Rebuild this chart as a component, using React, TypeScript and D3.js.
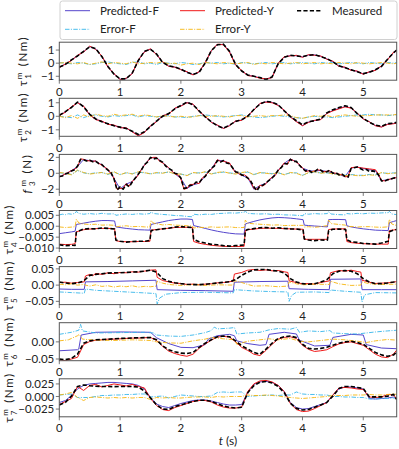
import React from 'react';
import * as d3 from 'd3';

// ---------- shared time grid (s) ----------
const T = [0,0.1,0.2,0.3,0.4,0.5,0.6,0.7,0.8,0.9,1,1.1,1.2,1.3,1.4,1.5,1.6,1.7,1.8,1.9,2,2.1,2.2,2.3,2.4,2.5,2.6,2.7,2.8,2.9,3,3.1,3.2,3.3,3.4,3.5,3.6,3.7,3.8,3.9,4,4.1,4.2,4.3,4.4,4.5,4.6,4.7,4.8,4.9,5,5.1,5.2,5.3,5.4,5.5,5.55];
const timeTicks = [0, 1, 2, 3, 4, 5];
const legendLabels = ['Predicted-F', 'Predicted-Y', 'Measured', 'Error-F', 'Error-Y'];

// ---------- panel 1: tau_1 (Nm) ----------
const p1Measured = [-0.3,-0.1,0.25,0.55,0.9,1.25,1.1,0.5,-0.25,-0.85,
  -1.2,-1.2,-0.75,0.2,0.9,1.05,0.7,0.05,-0.2,-0.3,
  -0.45,-0.7,-0.85,-0.7,0.0,0.95,1.4,1.45,0.9,-0.1,
  -0.6,-0.9,-1.0,-1.1,-1.25,-1.05,-0.05,0.45,0.6,0.55,
  0.5,0.6,0.65,0.5,0.35,0.1,-0.2,-0.35,-0.5,-0.65,
  -0.8,-0.7,-0.5,-0.25,0.3,0.8,1.0];
const p1PredY = [-0.35,-0.05,0.2,0.6,0.85,1.3,1.05,0.55,-0.3,-0.8,
  -1.25,-1.15,-0.8,0.25,0.85,1.1,0.65,0.1,-0.25,-0.3,
  -0.5,-0.65,-0.9,-0.65,0.05,0.95,1.45,1.4,0.85,-0.15,
  -0.55,-0.95,-1.0,-1.15,-1.2,-1.1,0.0,0.5,0.55,0.6,
  0.45,0.65,0.6,0.55,0.3,0.15,-0.25,-0.3,-0.55,-0.6,
  -0.85,-0.65,-0.55,-0.2,0.25,0.85,0.95];
const p1PredF = [-0.32,-0.08,0.22,0.57,0.88,1.27,1.08,0.52,-0.27,-0.83,
  -1.22,-1.18,-0.77,0.22,0.88,1.07,0.68,0.07,-0.22,-0.3,
  -0.47,-0.68,-0.87,-0.68,0.02,0.95,1.42,1.43,0.88,-0.12,
  -0.58,-0.92,-1.0,-1.12,-1.23,-1.07,-0.03,0.47,0.58,0.57,
  0.48,0.62,0.63,0.52,0.33,0.12,-0.22,-0.33,-0.52,-0.63,
  -0.82,-0.68,-0.52,-0.23,0.28,0.82,0.98];
const p1ErrF = [0.05,0.0,-0.05,0.05,0.0,-0.1,-0.05,0.05,0.1,0.0,
  -0.05,-0.1,0.05,0.1,-0.05,0.0,-0.1,0.05,0.0,-0.05,
  0.05,0.0,-0.1,-0.05,0.05,0.0,0.05,-0.05,0.0,-0.1,
  0.05,0.0,-0.05,0.0,0.05,-0.05,0.0,0.05,-0.05,0.0,
  0.05,0.0,-0.05,0.05,0.0,0.05,-0.05,0.0,0.05,0.0,
  -0.05,0.05,0.0,-0.05,0.05,0.0,0.05];
const p1ErrY = [0.0,0.05,0.0,-0.05,0.05,-0.1,0.0,0.1,-0.05,0.05,
  0.0,-0.05,0.1,-0.05,0.0,0.05,0.0,0.1,-0.05,0.0,
  -0.15,-0.05,0.0,-0.1,0.05,0.0,-0.05,0.05,0.0,-0.05,
  0.0,0.05,-0.1,0.0,-0.05,0.05,0.0,-0.05,0.0,0.05,
  -0.05,0.0,0.05,-0.05,0.0,-0.05,0.05,0.0,-0.05,0.05,
  0.0,-0.05,0.0,0.05,0.0,-0.05,0.0];

// ---------- panel 2: tau_2 (Nm) ----------
const p2Measured = [0.07,0.35,0.65,1.05,0.7,0.15,-0.2,-0.4,-0.55,-0.7,
  -0.8,-0.9,-1.1,-1.35,-1.15,-0.75,-0.35,0.0,0.2,0.55,
  0.8,1.05,0.85,0.4,-0.05,-0.4,-0.7,-0.88,-0.65,-0.38,
  -0.25,0.0,0.5,0.9,1.1,1.05,0.85,0.4,0.0,-0.33,
  -0.62,-0.4,-0.33,-0.2,0.25,0.48,0.65,0.78,0.65,0.2,
  -0.15,-0.45,-0.65,-0.74,-0.55,-0.5,-0.45];
const p2PredY = [0.05,0.3,0.7,1.0,0.75,0.1,-0.25,-0.35,-0.6,-0.65,
  -0.85,-0.85,-1.15,-1.45,-1.2,-0.7,-0.4,0.05,0.15,0.6,
  0.75,1.0,0.9,0.35,0.0,-0.45,-0.65,-0.9,-0.7,-0.35,
  -0.3,0.05,0.45,0.95,1.05,1.0,0.8,0.45,-0.05,-0.4,
  -0.7,-0.45,-0.3,-0.25,0.2,0.4,0.55,0.7,0.6,0.25,
  -0.2,-0.4,-0.7,-0.8,-0.6,-0.55,-0.5];
const p2PredF = [0.06,0.32,0.68,1.02,0.73,0.12,-0.22,-0.37,-0.58,-0.67,
  -0.83,-0.87,-1.13,-1.42,-1.18,-0.72,-0.38,0.03,0.17,0.58,
  0.77,1.02,0.88,0.37,-0.02,-0.43,-0.67,-0.89,-0.68,-0.36,
  -0.28,0.03,0.47,0.93,1.07,1.03,0.83,0.43,-0.03,-0.38,
  -0.68,-0.43,-0.32,-0.23,0.22,0.43,0.58,0.72,0.62,0.22,
  -0.18,-0.42,-0.68,-0.78,-0.58,-0.53,-0.48];
const p2ErrF = [0.0,-0.05,-0.1,0.1,-0.1,0.05,0.1,0.0,-0.05,0.05,
  0.0,0.05,0.1,-0.05,0.05,0.0,-0.05,0.0,0.05,-0.05,
  -0.05,-0.1,0.0,0.05,0.1,0.05,0.0,-0.05,0.0,0.05,
  0.1,0.0,-0.05,-0.1,-0.05,0.0,0.05,0.0,-0.05,-0.1,
  -0.15,-0.05,0.0,-0.05,-0.05,-0.1,-0.05,0.0,0.05,0.1,
  0.1,0.15,0.1,0.1,0.05,0.1,0.1];
const p2ErrY = [0.0,-0.1,0.05,-0.15,0.1,-0.05,0.15,0.05,0.0,0.15,
  0.05,0.1,0.15,0.0,0.1,0.05,-0.05,0.05,0.0,-0.05,
  0.0,-0.05,-0.05,0.05,0.0,0.0,0.05,0.0,-0.05,0.05,
  0.05,-0.05,0.0,0.05,0.0,0.05,0.05,0.1,0.05,-0.1,
  -0.15,-0.05,0.05,0.0,0.05,-0.05,0.05,0.1,0.05,0.0,
  0.05,0.05,0.1,0.1,0.1,0.1,0.15];

// ---------- panel 3: f_3 (N), [t, value] ----------
const p3Measured = [[0,-0.4],[0.05,-0.35],[0.1,-0.1],[0.15,0.05],[0.2,0.3],[0.25,0.45],[0.3,0.9],[0.35,1.75],[0.4,1.7],[0.45,1.55],
  [0.5,1.65],[0.55,1.45],[0.6,1.5],[0.65,1.2],[0.7,1.1],[0.75,0.7],[0.8,0.4],[0.85,0.1],[0.9,-0.7],[0.95,-2.1],
  [1.0,-1.7],[1.05,-2.0],[1.1,-1.4],[1.15,-1.7],[1.2,-1.1],[1.25,-0.6],[1.3,-0.1],[1.35,0.4],[1.4,1.1],[1.45,1.4],
  [1.5,2.0],[1.55,1.8],[1.6,1.9],[1.65,1.6],[1.7,1.4],[1.75,0.9],[1.8,0.6],[1.85,0.4],[1.9,0.0],[1.95,-0.1],
  [2.0,-0.6],[2.05,-1.9],[2.1,-1.8],[2.15,-1.5],[2.2,-1.5],[2.25,-1.1],[2.3,-1.2],[2.35,-0.7],[2.4,-0.4],[2.45,0.2],
  [2.5,0.6],[2.55,0.9],[2.6,1.6],[2.65,1.4],[2.7,1.6],[2.75,1.3],[2.8,1.2],[2.85,0.7],[2.9,0.2],[2.95,0.1],
  [3.0,-0.2],[3.05,-0.3],[3.1,-0.6],[3.15,-1.0],[3.2,-1.7],[3.25,-2.2],[3.3,-1.6],[3.35,-1.5],[3.4,-1.2],[3.45,-0.9],
  [3.5,-0.6],[3.55,-0.2],[3.6,0.4],[3.65,0.7],[3.7,1.2],[3.75,1.2],[3.8,1.75],[3.85,1.5],[3.9,1.5],[3.95,1.0],
  [4.0,0.6],[4.05,0.3],[4.1,0.4],[4.15,0.1],[4.2,0.2],[4.25,0.5],[4.3,0.4],[4.35,0.1],[4.4,0.2],[4.45,0.4],
  [4.5,0.0],[4.55,0.1],[4.6,-0.2],[4.65,-0.1],[4.7,-0.4],[4.75,-0.5],[4.8,0.6],[4.85,0.7],[4.9,0.8],[4.95,0.6],
  [5.0,0.4],[5.05,0.5],[5.1,0.2],[5.15,0.3],[5.2,0.2],[5.25,-0.2],[5.3,-0.95],[5.35,-1.0],[5.4,-0.8],[5.45,-0.75],
  [5.5,-0.6],[5.55,-0.55]];
const p3PredY = [[0,-0.5],[0.05,-0.3],[0.1,-0.05],[0.15,0.1],[0.2,0.35],[0.25,0.5],[0.3,0.8],[0.35,1.8],[0.4,1.75],[0.45,1.6],
  [0.5,1.55],[0.55,1.5],[0.6,1.55],[0.65,1.25],[0.7,1.0],[0.75,0.75],[0.8,0.5],[0.85,0.0],[0.9,-0.6],[0.95,-2.0],
  [1.0,-1.9],[1.05,-1.9],[1.1,-1.3],[1.15,-1.6],[1.2,-1.0],[1.25,-0.7],[1.3,-0.2],[1.35,0.5],[1.4,1.0],[1.45,1.5],
  [1.5,1.9],[1.55,2.0],[1.6,2.0],[1.65,1.5],[1.7,1.3],[1.75,1.0],[1.8,0.7],[1.85,0.3],[1.9,-0.1],[1.95,-0.2],
  [2.0,-0.7],[2.05,-2.0],[2.1,-1.9],[2.15,-1.4],[2.2,-1.4],[2.25,-1.2],[2.3,-1.3],[2.35,-0.6],[2.4,-0.3],[2.45,0.1],
  [2.5,0.5],[2.55,1.0],[2.6,1.7],[2.65,1.5],[2.7,1.5],[2.75,1.4],[2.8,1.3],[2.85,0.6],[2.9,0.1],[2.95,0.0],
  [3.0,-0.3],[3.05,-0.2],[3.1,-0.5],[3.15,-1.1],[3.2,-1.9],[3.25,-2.0],[3.3,-1.5],[3.35,-1.6],[3.4,-1.3],[3.45,-0.8],
  [3.5,-0.5],[3.55,-0.3],[3.6,0.3],[3.65,0.8],[3.7,1.3],[3.75,1.1],[3.8,1.8],[3.85,1.6],[3.9,1.4],[3.95,1.1],
  [4.0,0.7],[4.05,0.2],[4.1,0.3],[4.15,0.2],[4.2,0.3],[4.25,0.45],[4.3,0.35],[4.35,0.2],[4.4,0.25],[4.45,0.3],
  [4.5,0.05],[4.55,0.0],[4.6,-0.1],[4.65,-0.2],[4.7,-0.45],[4.75,-0.4],[4.8,0.7],[4.85,0.75],[4.9,0.75],[4.95,0.7],
  [5.0,0.65],[5.05,0.6],[5.1,0.55],[5.15,0.5],[5.2,0.45],[5.25,-0.1],[5.3,-0.9],[5.35,-0.95],[5.4,-0.85],[5.45,-0.7],
  [5.5,-0.65],[5.55,-0.5]];
const p3PredF = [-0.45,-0.08,0.32,0.85,1.72,1.58,1.52,1.05,0.45,-0.65,
  -1.95,-1.35,-1.05,-0.15,1.05,1.95,1.95,1.35,0.65,-0.05,
  -0.65,-1.9,-1.45,-1.25,-0.35,0.55,1.65,1.55,1.25,0.15,
  -0.25,-0.55,-2.0,-1.55,-1.25,-0.55,0.35,1.25,1.78,1.45,
  0.65,0.35,0.25,0.38,0.22,0.02,-0.15,-0.42,0.65,0.78,
  0.6,0.45,0.35,-0.92,-0.82,-0.62,-0.52];
const p3ErrF = [0.05,0.0,-0.15,0.35,0.05,-0.05,0.05,0.1,-0.15,0.15,
  -0.15,0.05,-0.05,0.15,0.05,-0.05,0.05,0.05,0.15,-0.05,
  -0.1,-0.25,0.05,0.05,0.15,-0.05,0.05,0.15,0.05,-0.05,
  0.05,0.15,-0.15,0.05,0.05,-0.05,0.05,-0.15,0.05,0.05,
  -0.25,0.05,0.15,0.05,0.05,-0.05,-0.15,-0.25,-0.15,-0.25,
  -0.25,-0.15,-0.2,0.05,0.0,0.05,0.05];
const p3ErrY = [0.1,0.0,-0.2,0.4,0.1,-0.1,0.0,0.1,-0.1,0.2,
  -0.2,0.1,-0.1,0.2,0.1,-0.1,0.1,0.0,0.2,-0.1,
  -0.1,-0.3,0.1,0.0,0.2,-0.1,0.1,0.2,0.0,-0.1,
  0.1,0.2,-0.2,0.1,0.0,-0.1,0.1,-0.2,0.1,0.0,
  -0.3,0.1,0.2,0.0,0.1,-0.1,-0.2,-0.3,-0.2,-0.3,
  -0.3,-0.2,-0.25,0.1,-0.05,0.0,0.05];

// ---------- panel 4: tau_4 (x1e-3 Nm), [t, value] ----------
const p4Measured = [[0,-8.5],[0.1,-8.9],[0.2,-8.7],[0.26,-8.8],[0.28,-2.8],[0.35,-1.8],[0.4,-1.3],[0.5,-1.1],[0.6,-1.2],[0.7,-0.8],[0.8,-1.0],[0.91,-1.3],[0.93,-6.3],[1.0,-6.9],[1.1,-7.3],[1.2,-7.0],[1.3,-6.9],[1.4,-6.9],[1.49,-6.5],[1.51,-2.0],[1.6,-1.6],[1.7,-1.2],[1.8,-0.9],[1.9,-0.4],[2.0,-0.2],[2.1,-0.4],[2.19,-0.6],[2.21,-6.0],[2.3,-7.1],[2.4,-7.7],[2.5,-8.3],[2.6,-8.5],[2.7,-8.9],[2.8,-9.1],[2.9,-8.9],[3.04,-8.6],[3.06,-2.0],[3.1,-1.5],[3.2,-1.1],[3.3,-0.7],[3.4,-0.6],[3.5,-0.9],[3.6,-0.7],[3.7,-1.0],[3.8,-1.2],[3.9,-1.3],[4.01,-1.7],[4.03,-5.8],[4.1,-6.3],[4.2,-6.6],[4.3,-6.3],[4.41,-6.4],[4.43,-2.0],[4.5,-1.4],[4.6,-1.3],[4.71,-1.5],[4.73,-6.2],[4.8,-7.1],[4.9,-7.4],[5.0,-7.9],[5.1,-8.0],[5.2,-8.2],[5.3,-7.7],[5.41,-6.9],[5.43,-2.5],[5.5,-1.8],[5.55,-1.5]];
const p4PredY = [[0,-8.2],[0.1,-8.4],[0.2,-8.3],[0.26,-8.0],[0.28,-2.6],[0.4,-1.6],[0.5,-1.3],[0.6,-1.1],[0.7,-1.0],[0.8,-1.0],[0.91,-1.1],[0.93,-6.6],[1.0,-7.0],[1.1,-7.1],[1.2,-7.1],[1.3,-7.0],[1.4,-7.0],[1.49,-6.9],[1.51,-1.8],[1.6,-1.5],[1.7,-1.2],[1.8,-0.9],[1.9,-0.6],[2.0,-0.5],[2.1,-0.5],[2.19,-0.6],[2.21,-7.0],[2.3,-7.8],[2.4,-8.3],[2.5,-8.7],[2.6,-9.0],[2.7,-9.2],[2.8,-9.3],[2.9,-9.3],[3.04,-9.2],[3.06,-2.0],[3.1,-1.6],[3.2,-1.3],[3.3,-1.0],[3.4,-0.9],[3.5,-0.9],[3.6,-1.0],[3.7,-1.1],[3.8,-1.2],[3.9,-1.3],[4.01,-1.4],[4.03,-6.0],[4.1,-6.0],[4.2,-6.0],[4.3,-6.0],[4.41,-6.0],[4.43,-1.5],[4.5,-1.3],[4.6,-1.2],[4.71,-1.2],[4.73,-7.0],[4.8,-7.5],[4.9,-7.8],[5.0,-8.0],[5.1,-8.1],[5.2,-8.2],[5.3,-8.2],[5.41,-8.2],[5.43,-2.0],[5.5,-1.7],[5.55,-1.5]];
const p4PredF = [[0,-3.4],[0.1,-3.0],[0.2,-2.6],[0.26,-2.3],[0.28,0.8],[0.4,1.4],[0.5,1.9],[0.6,2.3],[0.7,2.6],[0.8,2.6],[0.91,2.4],[0.93,-0.3],[1.0,-0.6],[1.1,-1.0],[1.2,-1.3],[1.3,-1.6],[1.4,-1.7],[1.49,-1.8],[1.51,0.8],[1.6,1.4],[1.7,2.0],[1.8,2.6],[1.9,3.0],[2.0,3.3],[2.1,3.3],[2.19,3.1],[2.21,0.3],[2.3,-0.3],[2.4,-1.0],[2.5,-1.7],[2.6,-2.3],[2.7,-2.8],[2.8,-3.2],[2.9,-3.5],[3.04,-3.6],[3.06,1.0],[3.1,1.4],[3.2,2.2],[3.3,2.9],[3.4,3.4],[3.5,3.8],[3.6,4.0],[3.7,3.9],[3.8,3.7],[3.9,3.4],[4.01,3.0],[4.03,0.5],[4.1,0.3],[4.2,0.1],[4.3,-0.1],[4.41,-0.3],[4.43,3.0],[4.5,3.1],[4.6,3.1],[4.71,3.0],[4.73,0.2],[4.8,-0.3],[4.9,-0.8],[5.0,-1.2],[5.1,-1.5],[5.2,-1.8],[5.3,-1.9],[5.41,-2.0],[5.43,1.6],[5.5,2.2],[5.55,2.6]];
const p4ErrF = [[0,5.2],[0.05,5.5],[0.1,5.3],[0.15,5.7],[0.2,5.5],[0.26,5.9],[0.28,6.8],[0.32,5.9],[0.4,5.5],[0.5,5.8],[0.6,5.5],[0.7,5.9],[0.8,5.6],[0.91,5.7],[0.93,5.0],[1.0,5.3],[1.1,5.6],[1.2,5.4],[1.3,5.7],[1.4,5.5],[1.49,5.8],[1.51,6.5],[1.55,5.8],[1.7,5.4],[1.8,5.2],[1.9,4.9],[2.0,4.8],[2.1,4.5],[2.19,4.3],[2.21,5.5],[2.3,5.2],[2.4,5.5],[2.5,5.4],[2.6,5.8],[2.7,5.9],[2.8,6.1],[2.9,6.0],[3.04,6.4],[3.06,6.9],[3.1,5.9],[3.2,5.7],[3.3,5.6],[3.4,5.7],[3.5,5.4],[3.6,5.5],[3.7,5.2],[3.85,5.1],[4.01,4.8],[4.03,5.8],[4.1,5.5],[4.2,5.8],[4.3,5.6],[4.41,5.8],[4.43,6.7],[4.47,5.6],[4.6,5.3],[4.71,5.2],[4.73,5.8],[4.8,5.6],[4.9,5.9],[5.0,5.7],[5.1,6.0],[5.2,5.9],[5.3,6.1],[5.41,6.2],[5.43,6.8],[5.47,5.6],[5.55,5.3]];
const p4ErrY = [[0,-0.3],[0.1,-0.6],[0.2,-0.4],[0.26,-0.2],[0.28,3.2],[0.32,1.5],[0.4,1.0],[0.5,0.8],[0.6,0.9],[0.7,0.5],[0.8,0.6],[0.91,0.4],[0.93,-0.3],[1.0,0.0],[1.1,0.2],[1.2,-0.2],[1.3,-0.1],[1.4,-0.3],[1.49,-0.4],[1.51,2.6],[1.55,1.4],[1.7,0.6],[1.8,0.8],[1.9,0.5],[2.0,0.4],[2.1,0.2],[2.19,0.1],[2.21,-0.8],[2.3,-0.5],[2.4,-0.6],[2.5,-0.3],[2.6,-0.5],[2.7,-0.4],[2.8,-0.3],[2.9,-0.6],[3.04,-0.6],[3.06,2.8],[3.1,1.4],[3.2,1.1],[3.3,0.9],[3.4,0.7],[3.5,0.5],[3.6,0.6],[3.7,0.3],[3.85,0.4],[4.01,0.4],[4.03,-0.4],[4.1,-0.2],[4.2,-0.5],[4.3,-0.2],[4.41,0.3],[4.43,2.8],[4.47,1.2],[4.6,0.8],[4.71,0.5],[4.73,-0.3],[4.8,-0.1],[4.9,-0.4],[5.0,-0.2],[5.1,-0.2],[5.2,-0.4],[5.3,-0.5],[5.41,-0.3],[5.43,3.2],[5.47,1.0],[5.55,0.3]];

// ---------- panel 5: tau_5 (x1e-2 Nm) ----------
const p5Measured = [0.95,0.65,0.45,0.65,1.25,3.0,3.3,3.5,3.7,3.8,
  3.8,3.9,4.0,4.1,4.3,4.6,4.0,2.0,1.15,0.75,
  0.45,0.25,0.15,0.15,0.25,0.45,0.65,0.85,1.05,1.65,
  3.0,4.0,4.7,4.8,4.8,4.5,4.3,3.7,2.0,0.95,
  0.45,0.25,0.45,0.95,1.65,3.5,4.3,4.5,4.3,3.5,
  2.0,0.95,0.45,0.45,0.65,0.95,1.15];
const p5PredY = [[0,0.8],[0.1,0.9],[0.2,0.6],[0.3,0.8],[0.41,1.0],[0.43,2.8],[0.5,3.3],[0.55,2.9],[0.6,3.6],[0.7,3.3],[0.8,3.8],[0.9,3.5],[1.0,3.9],[1.1,3.8],[1.2,4.1],[1.3,4.0],[1.4,4.3],[1.5,4.6],[1.59,4.7],[1.61,2.4],[1.7,1.4],[1.8,1.0],[1.9,0.6],[2.0,0.5],[2.1,0.2],[2.2,0.3],[2.3,0.1],[2.4,0.3],[2.5,0.4],[2.6,0.7],[2.7,0.8],[2.86,1.2],[2.88,3.4],[3.0,3.9],[3.1,4.6],[3.2,4.8],[3.3,4.5],[3.4,4.7],[3.5,4.4],[3.6,4.5],[3.7,4.1],[3.76,3.9],[3.78,1.3],[3.9,0.8],[4.0,0.4],[4.1,0.5],[4.2,0.3],[4.3,0.8],[4.44,1.3],[4.46,3.8],[4.6,4.5],[4.7,4.3],[4.8,4.6],[4.9,4.2],[4.96,4.0],[4.98,1.5],[5.1,0.9],[5.2,0.5],[5.3,0.6],[5.4,0.7],[5.5,0.9],[5.55,1.1]];
const p5PredF = [[0,-1.2],[0.2,-1.3],[0.41,-1.3],[0.43,1.0],[0.8,1.1],[1.2,1.3],[1.59,1.5],[1.61,-1.4],[2.0,-1.6],[2.4,-1.7],[2.86,-1.9],[2.88,0.9],[3.3,1.1],[3.76,1.2],[3.78,-1.1],[4.1,-1.3],[4.44,-1.4],[4.46,1.8],[4.96,1.9],[4.98,-1.4],[5.3,-1.4],[5.55,-1.4]];
const p5ErrF = [[0,-2.1],[0.2,-2.3],[0.41,-2.5],[0.43,-1.2],[0.6,-1.6],[1.0,-2.0],[1.4,-2.4],[1.59,-2.6],[1.61,-5.8],[1.65,-4.0],[1.75,-2.8],[2.0,-2.3],[2.4,-2.2],[2.86,-2.4],[2.88,-1.4],[3.2,-1.8],[3.5,-2.0],[3.76,-2.1],[3.78,-5.0],[3.82,-3.2],[3.9,-2.2],[4.2,-2.1],[4.44,-2.3],[4.46,-1.5],[4.7,-1.9],[4.96,-2.2],[4.98,-5.2],[5.02,-3.0],[5.2,-2.3],[5.55,-2.4]];
const p5ErrY = [[0,0.3],[0.1,0.1],[0.2,0.4],[0.3,0.0],[0.41,0.2],[0.43,0.0],[0.5,-0.3],[0.6,0.1],[0.7,-0.4],[0.8,-0.2],[0.9,-0.6],[1.0,-0.3],[1.1,-0.5],[1.2,-0.2],[1.3,-0.6],[1.4,-0.4],[1.5,-0.5],[1.59,-0.3],[1.61,1.2],[1.7,0.6],[1.8,0.2],[2.0,-0.1],[2.2,0.2],[2.4,-0.1],[2.6,0.1],[2.86,0.0],[2.88,1.4],[3.0,0.8],[3.1,0.2],[3.2,-0.3],[3.4,-0.2],[3.6,-0.5],[3.76,-0.3],[3.78,1.0],[3.9,0.4],[4.0,0.1],[4.2,0.3],[4.44,0.2],[4.46,1.2],[4.6,0.4],[4.8,-0.1],[4.96,0.0],[4.98,1.0],[5.1,0.4],[5.3,0.2],[5.55,0.3]];

// ---------- panel 6: tau_6 (x1e-2 Nm) ----------
const p6Measured = [-5.0,-5.2,-4.8,-3.6,-0.4,0.3,0.6,0.7,0.75,0.9,
  1.0,1.05,1.15,1.2,1.25,1.25,0.6,-1.15,-2.3,-2.9,
  -3.3,-3.4,-3.1,-1.6,-0.4,0.6,1.5,1.7,1.5,0.3,
  -1.15,-2.1,-3.1,-3.6,-2.1,-0.4,1.0,1.5,1.7,1.25,
  -0.7,-1.9,-2.1,-1.9,-1.6,-1.0,-0.4,0.0,0.2,-0.2,
  -0.7,-1.9,-3.1,-3.8,-4.2,-3.8,-2.9];
const p6PredY = [-5.2,-5.5,-5.0,-4.5,-0.8,0.1,0.5,0.6,0.8,0.8,
  0.9,1.0,1.1,1.1,1.2,1.3,0.4,-1.3,-2.7,-3.4,
  -3.9,-4.2,-3.6,-1.9,-0.6,0.5,1.4,1.6,1.4,0.0,
  -1.6,-2.5,-3.6,-4.0,-2.5,-0.7,0.8,1.3,1.5,1.0,
  -1.0,-2.2,-2.8,-2.6,-2.3,-1.4,-0.6,-0.2,0.0,-0.5,
  -1.0,-2.3,-3.6,-4.4,-4.6,-3.5,-2.4];
const p6PredF = [[0,-2.6],[0.3,-2.3],[0.32,-2.1],[0.36,2.0],[0.6,2.8],[1.0,2.9],[1.5,2.8],[1.6,1.2],[1.8,-0.5],[2.0,-1.6],[2.2,-1.7],[2.4,-0.8],[2.45,0.8],[2.6,1.8],[2.8,2.2],[2.88,1.8],[2.92,0.3],[3.1,-0.5],[3.3,-1.0],[3.4,-0.8],[3.45,2.2],[3.7,2.8],[3.9,2.3],[3.95,0.5],[4.2,-1.2],[4.45,-1.0],[4.5,1.3],[4.8,2.2],[5.0,2.0],[5.05,-0.8],[5.3,-1.8],[5.55,-2.0]];
const p6ErrF = [[0,2.2],[0.2,2.8],[0.32,3.4],[0.35,5.1],[0.38,3.2],[0.6,2.6],[1.0,2.7],[1.4,2.8],[1.55,2.6],[1.6,2.0],[1.8,1.7],[2.0,1.6],[2.2,2.0],[2.4,2.7],[2.5,3.3],[2.55,4.3],[2.6,3.8],[2.8,4.0],[2.88,4.2],[2.92,2.3],[3.1,2.6],[3.3,2.8],[3.45,3.5],[3.6,3.9],[3.8,3.7],[3.9,4.2],[3.95,2.8],[4.1,3.2],[4.3,3.0],[4.45,3.3],[4.5,2.6],[4.7,2.4],[4.9,2.3],[5.05,2.6],[5.2,2.9],[5.4,3.2],[5.55,3.4]];
const p6ErrY = [[0,0.3],[0.15,0.6],[0.3,1.8],[0.33,2.2],[0.38,0.8],[0.6,0.5],[0.9,0.4],[1.2,0.6],[1.5,0.4],[1.6,0.0],[1.8,-0.3],[2.0,-0.4],[2.2,0.3],[2.4,0.8],[2.5,1.3],[2.7,0.9],[2.88,0.6],[2.92,-0.7],[3.1,0.2],[3.3,0.6],[3.45,0.9],[3.6,0.6],[3.8,1.0],[3.95,0.2],[4.1,0.0],[4.3,0.4],[4.5,0.8],[4.7,0.6],[4.9,0.2],[5.05,-0.2],[5.2,0.3],[5.4,0.7],[5.55,0.5]];

// ---------- panel 7: tau_7 (x1e-3 Nm) ----------
const p7Measured = [-16.7,-11.8,0.7,20,23,21.5,20.5,20,20,19.5,
  20,20,20,18.8,11,-2.8,-16.7,-25,-25.5,-20,
  -16.7,-13.2,-9.7,-7.6,-7.6,-9.7,-14.6,-18.8,-21.5,-23,
  -21.5,7.6,21.5,28.5,29.9,27,20,7.6,-13.2,-23.6,
  -27,-25.7,-21.5,-16.7,-11.8,0.7,16,20,20,18,
  16,-0.7,-0.7,-0.7,0.7,4.2,-6.2];
const p7PredY = [-16,-10,-4,20,12,22,24,19,22,25,
  23,21,24,20,17,-4,-18,-26,-28,-22,
  -18,-14,-10,-8,-8,-11,-17,-21,-23,-23,
  -21,10,25,31,32,29,22,10,-14,-26,
  -30,-29,-24,-18,-12,3,17,18,17,15,
  14,-1,-2,-1,4,3,-5];
const p7PredF = [-12,-8,2,15,22,25,26,27,28,28,
  27,26,25,22,15,-2,-15,-20,-22,-18,
  -14,-11,-8,-7,-7,-9,-12,-15,-17,-17,
  -16,8,24,29,30,28,22,10,-12,-22,
  -25,-24,-20,-16,-12,3,15,19,19,17,
  15,-4,-5,-4,-3,-1,-4];
const p7ErrF = [3,4,5,-2,-2,-2,0,2,2,3,
  3,4,4,5,5,-1,0,1,-3,0,
  3,2,1,0,0,1,8,9,8,9,
  9,0,1,2,2,3,2,3,3,9,
  5,4,4,3,3,0,0,-1,-1,-2,
  -2,-5,-5,-4,-4,-3,-3];
const p7ErrY = [3,5,8,-2,-8,-2,-1,-2,-3,-2,
  -3,-2,-3,-2,-2,-6,-2,-3,-2,-3,
  -3,-2,-1,-1,-1,-2,0,-1,0,0,
  0,3,2,2,3,2,1,-1,-2,-3,
  -4,-3,-2,-1,0,2,2,2,3,3,
  3,4,3,3,4,5,4];

// ---------- panel definitions ----------
type Series = number[] | number[][];
const panels = [
  { sym: 'τ', sub: '1', unitLabel: '(Nm)', italic: false, scale: 1, domain: [-1.3, 1.6], ticks: [-1, 0, 1], fmt: 'd',
    predF: p1PredF, predY: p1PredY, meas: p1Measured, errF: p1ErrF, errY: p1ErrY, labelX: 27 },
  { sym: 'τ', sub: '2', unitLabel: '(Nm)', italic: false, scale: 1, domain: [-1.48, 1.33], ticks: [-1, 0, 1], fmt: 'd',
    predF: p2PredF, predY: p2PredY, meas: p2Measured, errF: p2ErrF, errY: p2ErrY, labelX: 27 },
  { sym: 'f', sub: '3', unitLabel: '(N)', italic: true, scale: 1, domain: [-2.4, 2.37], ticks: [-2, 0, 2], fmt: 'd',
    predF: p3PredF, predY: p3PredY, meas: p3Measured, errF: p3ErrF, errY: p3ErrY, labelX: 31 },
  { sym: 'τ', sub: '4', unitLabel: '(Nm)', italic: false, scale: 1e-3, domain: [-0.0102, 0.0072], ticks: [-0.01, -0.005, 0, 0.005], fmt: '.3f',
    predF: p4PredF, predY: p4PredY, meas: p4Measured, errF: p4ErrF, errY: p4ErrY, labelX: 13 },
  { sym: 'τ', sub: '5', unitLabel: '(Nm)', italic: false, scale: 1e-2, domain: [-0.06, 0.057], ticks: [-0.05, 0, 0.05], fmt: '.2f',
    predF: p5PredF, predY: p5PredY, meas: p5Measured, errF: p5ErrF, errY: p5ErrY, labelX: 13 },
  { sym: 'τ', sub: '6', unitLabel: '(Nm)', italic: false, scale: 1e-2, domain: [-0.055, 0.056], ticks: [-0.05, 0], fmt: '.2f',
    predF: p6PredF, predY: p6PredY, meas: p6Measured, errF: p6ErrF, errY: p6ErrY, labelX: 13 },
  { sym: 'τ', sub: '7', unitLabel: '(Nm)', italic: false, scale: 1e-3, domain: [-0.0404, 0.0352], ticks: [-0.025, 0, 0.025], fmt: '.3f',
    predF: p7PredF, predY: p7PredY, meas: p7Measured, errF: p7ErrF, errY: p7ErrY, labelX: 13 },
];

// ---------- styling ----------
const W = 399, H = 449;
const X0 = 59.3, X1 = 396.7;
const TOP0 = 42.2, STEP = 56.1, PH = 38;
const FONT = "Lato, 'Open Sans', 'DejaVu Sans', sans-serif";
const FS = 11.5;
const COLORS = { predF: '#5546cc', predY: '#f01818', meas: '#000000', errF: '#35b6ea', errY: '#f6b60e' };
const STYLE: Record<string, { color: string; width: number; dash?: string }> = {
  predF: { color: COLORS.predF, width: 1 },
  errF: { color: COLORS.errF, width: 0.9, dash: '4.5,1.4,1,1.4' },
  predY: { color: COLORS.predY, width: 1 },
  errY: { color: COLORS.errY, width: 0.9, dash: '4.5,1.4,1,1.4' },
  meas: { color: COLORS.meas, width: 1.6, dash: '4.2,2.2' },
};
const DRAW_ORDER = ['predF', 'errF', 'predY', 'errY', 'meas'];

const toPts = (s: Series): number[][] =>
  typeof s[0] === 'number' ? (s as number[]).map((v, i) => [T[i], v]) : (s as number[][]);

const x = d3.scaleLinear().domain([0, 5.55]).range([X0, X1]);

function Panel({ p, i }: { p: any; i: number }) {
  const top = TOP0 + i * STEP;
  const bottom = top + PH;
  const y = d3.scaleLinear().domain(p.domain).range([bottom, top]);
  const line = d3.line<number[]>().x(d => x(d[0])).y(d => y(d[1] * p.scale));
  const fmt = d3.format(p.fmt);
  const cy = top + PH / 2;
  const clipId = `clip${i}`;
  const labelLen = p.unitLabel === '(N)' ? 40 : 50;
  const a = -labelLen / 2;
  return (
    <g>
      <defs>
        <clipPath id={clipId}>
          <rect x={X0} y={top} width={X1 - X0} height={PH} />
        </clipPath>
      </defs>
      <g clipPath={`url(#${clipId})`}>
        {DRAW_ORDER.map(k => (
          <path key={k} d={line(toPts(p[k])) || ''} fill="none" stroke={STYLE[k].color}
            strokeWidth={STYLE[k].width} strokeDasharray={STYLE[k].dash} strokeLinejoin="round" />
        ))}
      </g>
      <rect x={X0} y={top} width={X1 - X0} height={PH} fill="none" stroke="#555" strokeWidth={1} />
      {timeTicks.map(t => (
        <g key={t}>
          <line x1={x(t)} x2={x(t)} y1={bottom} y2={bottom + 3.5} stroke="#555" strokeWidth={0.8} />
          <text x={x(t)} y={bottom + 15.5} textAnchor="middle" fontSize={FS} fontFamily={FONT} fill="#222">{t}</text>
        </g>
      ))}
      {p.ticks.map((v: number) => (
        <g key={v}>
          <line x1={X0 - 3.5} x2={X0} y1={y(v)} y2={y(v)} stroke="#555" strokeWidth={0.8} />
          <text x={X0 - 5} y={y(v)} dy="0.36em" textAnchor="end" fontSize={FS} fontFamily={FONT} fill="#222">{fmt(v)}</text>
        </g>
      ))}
      <g transform={`translate(${p.labelX},${cy}) rotate(-90)`} fontFamily={FONT} fill="#222">
        <text x={a} y={0} fontSize={FS + 0.5} fontStyle={p.italic ? 'italic' : 'normal'}>{p.sym}</text>
        <text x={a + 7} y={-5} fontSize={8}>m</text>
        <text x={a + 7.5} y={3.5} fontSize={8}>{p.sub}</text>
        <text x={a + 20} y={0} fontSize={FS} letterSpacing={1.6}>{p.unitLabel}</text>
      </g>
    </g>
  );
}

function Legend() {
  const keys = ['predF', 'predY', 'meas', 'errF', 'errY'];
  const colX = [65, 180, 297];
  const rowY = [10.7, 29.3];
  return (
    <g>
      <rect x={60} y={1} width={337} height={38.5} rx={2.5} fill="#fff" stroke="#d0d0d0" strokeWidth={1} />
      {keys.map((k, idx) => {
        const col = idx % 3, row = Math.floor(idx / 3);
        const lx = colX[col], ly = rowY[row];
        return (
          <g key={k}>
            <line x1={lx} x2={lx + 25} y1={ly} y2={ly} stroke={STYLE[k].color}
              strokeWidth={STYLE[k].width} strokeDasharray={STYLE[k].dash} />
            <text x={lx + 35} y={ly} dy="0.36em" fontSize={FS} fontFamily={FONT} fill="#222">{legendLabels[idx]}</text>
          </g>
        );
      })}
    </g>
  );
}

export default function App() {
  return (
    <svg width={W} height={H} style={{ position: 'absolute', left: 0, top: 0, background: '#fff' }}>
      <rect x={0} y={0} width={W} height={H} fill="#fff" />
      {panels.map((p, i) => <Panel key={i} p={p} i={i} />)}
      <Legend />
      <text x={(X0 + X1) / 2} y={445} textAnchor="middle" fontSize={FS + 0.5} fontFamily={FONT} fill="#222">
        <tspan fontStyle="italic">t</tspan> (s)
      </text>
    </svg>
  );
}
